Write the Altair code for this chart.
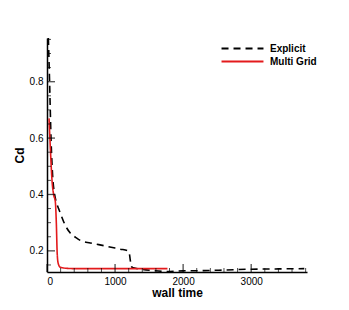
import altair as alt
import pandas as pd

explicit_x = [20, 38, 59, 82, 112, 140, 170, 205, 260, 342, 420, 489, 636, 760, 881, 1000, 1076, 1184, 1210, 1223, 1248, 1300, 1370, 1560, 1762, 2000, 2300, 2600, 3000, 3400, 3780]
explicit_y = [0.955, 0.8, 0.6, 0.47, 0.40, 0.37, 0.35, 0.328, 0.295, 0.263, 0.248, 0.237, 0.228, 0.222, 0.216, 0.21, 0.206, 0.201, 0.19, 0.168, 0.142, 0.138, 0.135, 0.13, 0.127, 0.129, 0.13, 0.132, 0.135, 0.136, 0.137]

multigrid_x = [30, 50, 73, 97, 122, 137, 150, 165, 195, 250, 400, 1000, 1770]
multigrid_y = [0.67, 0.56, 0.452, 0.40, 0.375, 0.3, 0.19, 0.155, 0.142, 0.139, 0.137, 0.137, 0.137]

series_names = ["Explicit", "Multi Grid"]
series_colors = ["#000000", "#e31a1c"]
x_ticks = [0, 1000, 2000, 3000]
x_minor = [200, 400, 600, 800, 1200, 1400, 1600, 1800, 2200, 2400, 2600, 2800, 3200, 3400, 3600, 3800]
y_ticks = [0.2, 0.4, 0.6, 0.8]
y_minor = [0.15, 0.25, 0.3, 0.35, 0.45, 0.5, 0.55, 0.65, 0.7, 0.75, 0.85, 0.9, 0.95]

X_DOMAIN = [0, 3820]
Y_DOMAIN = [0.125, 0.955]

rows = []
for i, (x, y) in enumerate(zip(explicit_x, explicit_y)):
    rows.append({"series": "Explicit", "t": x, "cd": y, "order": i})
for i, (x, y) in enumerate(zip(multigrid_x, multigrid_y)):
    rows.append({"series": "Multi Grid", "t": x, "cd": y, "order": i})
df = pd.DataFrame(rows)

font = "Liberation Sans"
W, H = 260, 234

xscale = alt.Scale(domain=X_DOMAIN, nice=False, zero=False)
yscale = alt.Scale(domain=Y_DOMAIN, nice=False, zero=False)
xaxis = alt.Axis(values=x_ticks, format="d", grid=False, ticks=False, labelFont=font, labelFontSize=10,
                 titleFont=font, titleFontSize=12, titleFontWeight="bold",
                 domainColor="black", labelColor="black", titleColor="black",
                 labelPadding=4, titlePadding=1, domainWidth=1.5)
yaxis = alt.Axis(values=y_ticks, format=".1f", grid=False, ticks=False, labelFont=font, labelFontSize=10,
                 titleFont=font, titleFontSize=12, titleFontWeight="bold",
                 domainColor="black", labelColor="black", titleColor="black",
                 labelPadding=4, titlePadding=3, domainWidth=1.5)

lines = alt.Chart(df).mark_line(strokeWidth=1.6, interpolate="monotone", clip=True).encode(
    x=alt.X("t:Q", title="wall time", scale=xscale, axis=xaxis),
    y=alt.Y("cd:Q", title="Cd", scale=yscale, axis=yaxis),
    color=alt.Color("series:N", scale=alt.Scale(domain=series_names, range=series_colors),
                    legend=alt.Legend(title=None, orient="none", legendX=189, legendY=4,
                                      symbolType="M-4,0H4", symbolSize=110, symbolStrokeWidth=1.8,
                                      labelFont=font, labelFontSize=10, labelFontWeight="bold",
                                      labelColor="black", rowPadding=1, labelOffset=21)),
    strokeDash=alt.StrokeDash("series:N", scale=alt.Scale(domain=series_names, range=[[7, 5], [1, 0]]),
                              legend=None),
    order="order:Q",
)

xmaj = alt.Chart(pd.DataFrame({"v": x_ticks})).mark_tick(color="black", size=8, thickness=1.3).encode(
    x=alt.X("v:Q", title="wall time", scale=xscale, axis=xaxis), y=alt.value(H - 4))
xmin = alt.Chart(pd.DataFrame({"v": x_minor})).mark_tick(color="black", size=4, thickness=1, clip=True).encode(
    x=alt.X("v:Q", title="wall time", scale=xscale, axis=xaxis), y=alt.value(H - 2))
ymaj = alt.Chart(pd.DataFrame({"v": y_ticks})).mark_tick(color="black", size=8, thickness=1.3).encode(
    y=alt.Y("v:Q", title="Cd", scale=yscale, axis=yaxis), x=alt.value(4))
ymin = alt.Chart(pd.DataFrame({"v": y_minor})).mark_tick(color="black", size=4, thickness=1).encode(
    y=alt.Y("v:Q", title="Cd", scale=yscale, axis=yaxis), x=alt.value(2))

chart = alt.layer(lines, xmaj, xmin, ymaj, ymin).properties(
    width=W, height=H,
    autosize=alt.AutoSizeParams(type="none"),
    padding={"left": 39, "top": 30, "right": 34, "bottom": 30},
).configure_view(stroke=None)

chart.save("out.html", embed_options={"renderer": "svg", "actions": False})
